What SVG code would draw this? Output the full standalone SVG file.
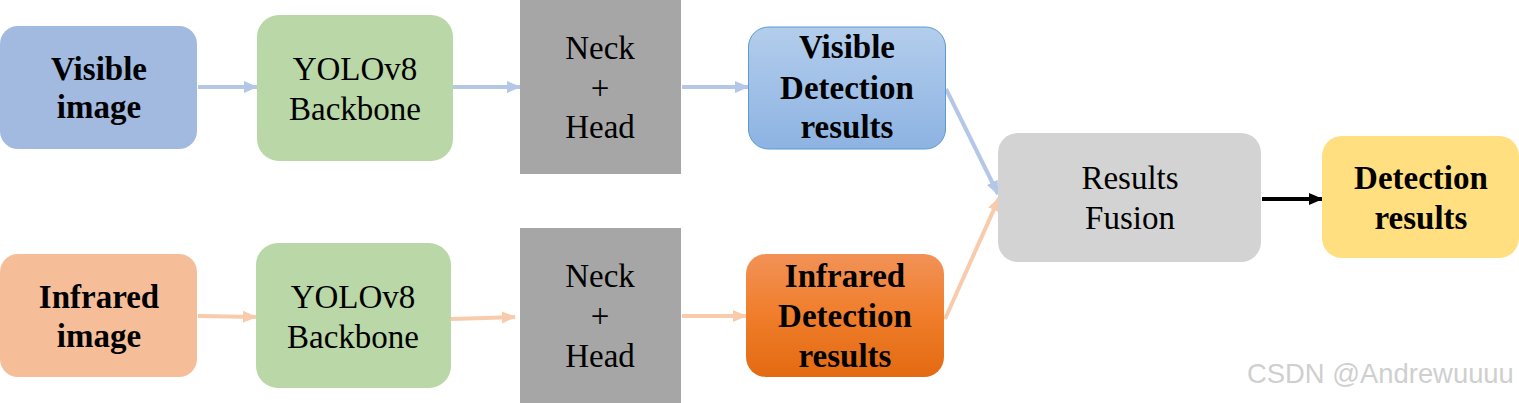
<svg xmlns="http://www.w3.org/2000/svg" width="1519" height="403" viewBox="0 0 1519 403">
<style>
text{font-family:'Liberation Serif','Tinos','Times New Roman','DejaVu Serif',serif;font-size:33px;fill:#000;text-anchor:middle}
.b{font-weight:bold}
.c{fill:none;stroke-width:4}
.blue{stroke:#B4C7E7}
.peach{stroke:#F8CBAD}
.blk{stroke:#000}
text.wm{font-family:'Liberation Sans',Arial,sans-serif;font-size:27.4px;fill:#CFCFCF;text-anchor:start}
</style>
<defs>
<marker id="hb" markerUnits="userSpaceOnUse" markerWidth="14" markerHeight="14" viewBox="0 0 14 14" refX="13" refY="7" orient="auto"><path d="M0,1 L14,7 L0,13 z" fill="#B4C7E7"/></marker>
<marker id="hp" markerUnits="userSpaceOnUse" markerWidth="14" markerHeight="14" viewBox="0 0 14 14" refX="13" refY="7" orient="auto"><path d="M0,1 L14,7 L0,13 z" fill="#F8CBAD"/></marker>
<marker id="hk" markerUnits="userSpaceOnUse" markerWidth="14" markerHeight="14" viewBox="0 0 14 14" refX="13" refY="7" orient="auto"><path d="M0,1 L14,7 L0,13 z" fill="#000"/></marker>
<linearGradient id="gb" x1="0" y1="0" x2="0" y2="1"><stop offset="0" stop-color="#B3CDEC"/><stop offset="1" stop-color="#8DB3E2"/></linearGradient>
<linearGradient id="go" x1="0" y1="0" x2="0" y2="1"><stop offset="0" stop-color="#F29257"/><stop offset="0.5" stop-color="#F07D2A"/><stop offset="1" stop-color="#E36A12"/></linearGradient>
</defs>
<g id="connectors">
<line class="c blue" x1="198" y1="87" x2="257" y2="87" marker-end="url(#hb)"/>
<line class="c blue" x1="453" y1="87" x2="520" y2="87" marker-end="url(#hb)"/>
<line class="c blue" x1="682" y1="87" x2="748" y2="87" marker-end="url(#hb)"/>
<line class="c peach" x1="198" y1="316" x2="256" y2="317" marker-end="url(#hp)"/>
<line class="c peach" x1="451" y1="319" x2="515" y2="317" marker-end="url(#hp)"/>
<line class="c peach" x1="682" y1="316" x2="746" y2="316" marker-end="url(#hp)"/>
<line class="c blue" x1="946" y1="89" x2="998" y2="194" marker-end="url(#hb)"/>
<line class="c peach" x1="945" y1="319" x2="999" y2="198" marker-end="url(#hp)"/>
<line class="c blk" x1="1262" y1="199" x2="1322" y2="199" marker-end="url(#hk)"/>
</g>
<g id="visible-image"><rect x="0" y="26" width="197" height="123" rx="18" fill="#A2B9E0"/><text class="b" x="99" y="80">Visible</text><text class="b" x="99" y="118">image</text></g>
<g id="backbone-top"><rect x="257" y="15" width="196" height="146" rx="22" fill="#B9D7A7"/><text x="355" y="80">YOLOv8</text><text x="355" y="120">Backbone</text></g>
<g id="neck-top"><rect x="520" y="0" width="161" height="174" fill="#A6A6A6"/><text x="600" y="59">Neck</text><text x="600" y="99">+</text><text x="600" y="138">Head</text></g>
<g id="visible-detection"><rect x="748.5" y="27" width="197" height="122" rx="20" fill="url(#gb)" stroke="#5B9BD5" stroke-width="1"/><text class="b" x="847" y="58">Visible</text><text class="b" x="847" y="99">Detection</text><text class="b" x="847" y="138">results</text></g>
<g id="infrared-image"><rect x="0" y="254" width="197" height="123" rx="18" fill="#F6BE98"/><text class="b" x="99" y="308">Infrared</text><text class="b" x="99" y="347">image</text></g>
<g id="backbone-bottom"><rect x="256" y="243" width="195" height="145" rx="22" fill="#B9D7A7"/><text x="353" y="308">YOLOv8</text><text x="353" y="348">Backbone</text></g>
<g id="neck-bottom"><rect x="520" y="228" width="161" height="175" fill="#A6A6A6"/><text x="600" y="287">Neck</text><text x="600" y="327">+</text><text x="600" y="367">Head</text></g>
<g id="infrared-detection"><rect x="746" y="254" width="198" height="123" rx="20" fill="url(#go)"/><text class="b" x="845" y="287">Infrared</text><text class="b" x="845" y="327">Detection</text><text class="b" x="845" y="367">results</text></g>
<g id="results-fusion"><rect x="998" y="133" width="263" height="129" rx="20" fill="#D3D3D3"/><text x="1130" y="189">Results</text><text x="1130" y="229">Fusion</text></g>
<g id="detection-results"><rect x="1322" y="136" width="197" height="122" rx="20" fill="#FFDF80"/><text class="b" x="1421" y="189">Detection</text><text class="b" x="1421" y="229">results</text></g>
<text class="wm" x="1247" y="383">CSDN @Andrewuuuu</text>
</svg>
